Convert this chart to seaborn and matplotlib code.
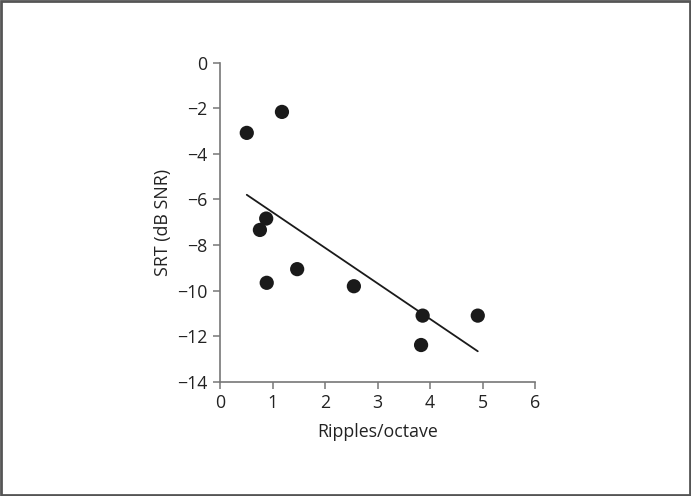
import matplotlib
matplotlib.use("Agg")
import matplotlib.pyplot as plt
import seaborn as sns
import pandas as pd
from matplotlib.patches import Rectangle

ripples = [0.51, 1.18, 0.88, 0.76, 0.89, 1.47, 2.55, 3.86, 3.83, 4.91]
srt = [-3.08, -2.16, -6.84, -7.34, -9.66, -9.06, -9.81, -11.10, -12.39, -11.10]
xticks = [0, 1, 2, 3, 4, 5, 6]
yticks = [-14, -12, -10, -8, -6, -4, -2, 0]

df = pd.DataFrame({"Ripples/octave": ripples, "SRT (dB SNR)": srt})

sns.set_theme(style="ticks")
plt.rcParams['font.family'] = ['Open Sans', 'DejaVu Sans']

fig = plt.figure(figsize=(6.91, 4.96), dpi=100)
ax = fig.add_axes([220/691, 1 - 381.7/496, 315/691, 319/496])

sns.regplot(data=df, x="Ripples/octave", y="SRT (dB SNR)", ax=ax, ci=None, truncate=True,
            scatter_kws=dict(s=105, color="#1a1a1a", edgecolor="none", zorder=3, alpha=1),
            line_kws=dict(color="#1a1a1a", linewidth=1.3))

ax.set_xlim(0, 6)
ax.set_ylim(-14, 0)
ax.set_xticks(xticks)
ax.set_yticks(yticks)
ax.set_xticklabels([str(t) for t in xticks])
ax.set_yticklabels([str(t).replace('-', '\u2212') for t in yticks])
for s in ["top", "right"]:
    ax.spines[s].set_visible(False)
for s in ["left", "bottom"]:
    ax.spines[s].set_color("#777777")
    ax.spines[s].set_linewidth(1.2)
ax.tick_params(axis="both", direction="out", length=5, width=1.1, color="#777777",
               labelsize=12.8, labelcolor="#222222", pad=4)
ax.set_xlabel("Ripples/octave", fontsize=12.8, color="#222222", labelpad=8)
ax.set_ylabel("SRT (dB SNR)", fontsize=12.8, color="#222222", labelpad=4)

fig.patches.append(Rectangle((0.002, 0.003), 0.996, 0.994, transform=fig.transFigure,
                             fill=False, edgecolor="#555555", linewidth=2))

fig.savefig("out.png", dpi=100)
